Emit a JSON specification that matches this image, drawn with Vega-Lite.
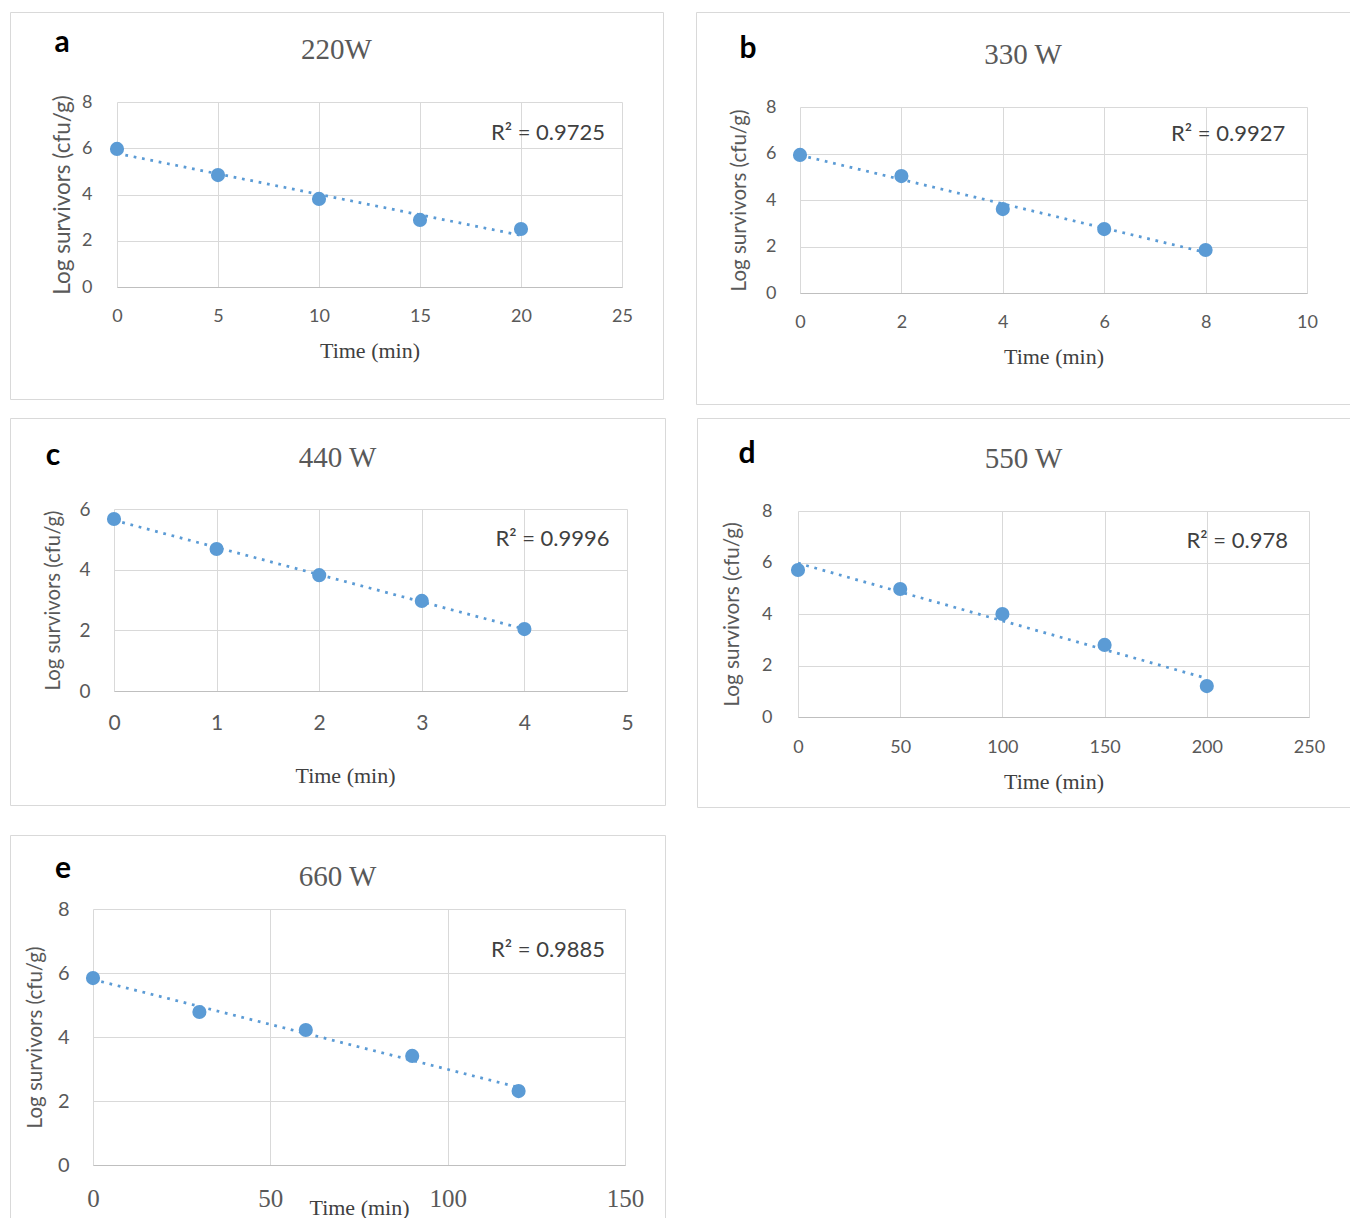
{
  "$schema": "https://vega.github.io/schema/vega-lite/v6.json",
  "background": "white",
  "padding": {"left": 9, "top": 11, "right": 0, "bottom": 0},
  "autosize": {"type": "pad"},
  "config": {
    "view": {"stroke": "#d9d9d9", "strokeWidth": 1, "fill": "white"},
    "font": "Lato",
    "axis": {"gridColor": "#d9d9d9", "gridWidth": 1, "ticks": false, "tickSize": 0, "domainColor": "#d9d9d9", "labelColor": "#595959", "labelFont": "Lato", "titleFontWeight": "normal", "labelFlush": false, "labelOverlap": false, "format": "d"},
    "axisX": {"titleFont": "Liberation Serif", "titleColor": "#404040", "domainColor": "#bfbfbf"},
    "axisY": {"titleFont": "Lato", "titleColor": "#595959", "domain": false, "grid": true},
    "title": {"font": "Liberation Serif", "fontSize": 29, "fontWeight": "normal", "color": "#595959", "frame": "bounds", "anchor": "middle"}
  },
  "datasets": {
    "a": [{"t": 0, "v": 5.97}, {"t": 5, "v": 4.84}, {"t": 10, "v": 3.81}, {"t": 15, "v": 2.9}, {"t": 20, "v": 2.51}],
    "b": [{"t": 0, "v": 5.94}, {"t": 2, "v": 5.03}, {"t": 4, "v": 3.61}, {"t": 6, "v": 2.75}, {"t": 8, "v": 1.85}],
    "c": [{"t": 0, "v": 5.67}, {"t": 1, "v": 4.68}, {"t": 2, "v": 3.82}, {"t": 3, "v": 2.97}, {"t": 4, "v": 2.04}],
    "d": [{"t": 0, "v": 5.71}, {"t": 50, "v": 4.97}, {"t": 100, "v": 4.0}, {"t": 150, "v": 2.8}, {"t": 200, "v": 1.2}],
    "e": [{"t": 0, "v": 5.84}, {"t": 30, "v": 4.78}, {"t": 60, "v": 4.22}, {"t": 90, "v": 3.41}, {"t": 120, "v": 2.31}]
  },
  "spacing": 26,
  "vconcat": [
    {
      "spacing": 12,
      "vconcat": [
        {
          "spacing": 31,
          "hconcat": [
            {
              "width": 653, "height": 387,
              "title": {"text": "220W", "offset": -53},
              "data": {"name": "a"},
              "resolve": {"axis": {"x": "independent"}},
              "layer": [
                {"transform": [{"regression": "v", "on": "t"}], "mark": {"type": "line", "color": "#5b9bd5", "strokeWidth": 2.75, "strokeDash": [2.75, 5.75]},
                 "encoding": {"x": {"field": "t", "type": "quantitative", "scale": {"domain": [0, 25], "range": [107, 612], "nice": false, "zero": false},
                                    "axis": {"orient": "top", "values": [0, 5, 10, 15, 20, 25], "grid": true, "labels": false, "domain": false, "title": null}},
                              "y": {"field": "v", "type": "quantitative", "scale": {"domain": [0, 8], "range": [275, 90], "nice": false, "zero": false},
                                    "axis": {"values": [0, 2, 4, 6, 8], "offset": -107, "title": "Log survivors (cfu/g)", "labelFontSize": 18, "labelPadding": 25, "titleFontSize": 22.5, "titlePadding": 7}}}},
                {"layer": [
                  {"mark": {"type": "circle", "size": 200, "color": "#5b9bd5", "opacity": 1},
                   "encoding": {"x": {"field": "t", "type": "quantitative",
                                      "axis": {"values": [0, 5, 10, 15, 20, 25], "grid": false, "offset": -112, "title": "Time (min)", "labelFontSize": 18, "labelPadding": 20, "titleFontSize": 22, "titlePadding": 15}},
                                "y": {"field": "v", "type": "quantitative"}}},
                  {"data": {"values": [{}]}, "mark": {"type": "text", "text": "R² = 0.9725", "font": "Lato", "fontSize": 22, "color": "#404040", "align": "right", "baseline": "middle"},
                   "encoding": {"x": {"datum": 24.16, "type": "quantitative"}, "y": {"datum": 6.66, "type": "quantitative"}}},
                  {"data": {"values": [{}]}, "mark": {"type": "text", "text": "a", "font": "Lato", "fontSize": 30, "fontWeight": "bold", "color": "#000000", "align": "center", "baseline": "middle"},
                   "encoding": {"x": {"datum": -2.723, "type": "quantitative"}, "y": {"datum": 10.551, "type": "quantitative"}}}
                ]}
              ]
            },
            {
              "width": 654, "height": 392,
              "title": {"text": "330 W", "offset": -58},
              "data": {"name": "b"},
              "resolve": {"axis": {"x": "independent"}},
              "layer": [
                {"transform": [{"regression": "v", "on": "t"}], "mark": {"type": "line", "color": "#5b9bd5", "strokeWidth": 2.75, "strokeDash": [2.75, 5.75]},
                 "encoding": {"x": {"field": "t", "type": "quantitative", "scale": {"domain": [0, 10], "range": [104, 611], "nice": false, "zero": false},
                                    "axis": {"orient": "top", "values": [0, 2, 4, 6, 8, 10], "grid": true, "labels": false, "domain": false, "title": null}},
                              "y": {"field": "v", "type": "quantitative", "scale": {"domain": [0, 8], "range": [281, 95], "nice": false, "zero": false},
                                    "axis": {"values": [0, 2, 4, 6, 8], "offset": -104, "title": "Log survivors (cfu/g)", "labelFontSize": 18, "labelPadding": 24, "titleFontSize": 20.5, "titlePadding": 16}}}},
                {"layer": [
                  {"mark": {"type": "circle", "size": 200, "color": "#5b9bd5", "opacity": 1},
                   "encoding": {"x": {"field": "t", "type": "quantitative",
                                      "axis": {"values": [0, 2, 4, 6, 8, 10], "grid": false, "offset": -111, "title": "Time (min)", "labelFontSize": 18, "labelPadding": 20, "titleFontSize": 22, "titlePadding": 15}},
                                "y": {"field": "v", "type": "quantitative"}}},
                  {"data": {"values": [{}]}, "mark": {"type": "text", "text": "R² = 0.9927", "font": "Lato", "fontSize": 22, "color": "#404040", "align": "right", "baseline": "middle"},
                   "encoding": {"x": {"datum": 9.57, "type": "quantitative"}, "y": {"datum": 6.84, "type": "quantitative"}}},
                  {"data": {"values": [{}]}, "mark": {"type": "text", "text": "b", "font": "Lato", "fontSize": 30, "fontWeight": "bold", "color": "#000000", "align": "center", "baseline": "middle"},
                   "encoding": {"x": {"datum": -1.026, "type": "quantitative"}, "y": {"datum": 10.495, "type": "quantitative"}}}
                ]}
              ]
            }
          ]
        },
        {
          "spacing": 30,
          "hconcat": [
            {
              "width": 655, "height": 387,
              "title": {"text": "440 W", "offset": -55},
              "data": {"name": "c"},
              "resolve": {"axis": {"x": "independent"}},
              "layer": [
                {"transform": [{"regression": "v", "on": "t"}], "mark": {"type": "line", "color": "#5b9bd5", "strokeWidth": 2.75, "strokeDash": [2.75, 5.75]},
                 "encoding": {"x": {"field": "t", "type": "quantitative", "scale": {"domain": [0, 5], "range": [104, 617], "nice": false, "zero": false},
                                    "axis": {"orient": "top", "values": [0, 1, 2, 3, 4, 5], "grid": true, "labels": false, "domain": false, "title": null}},
                              "y": {"field": "v", "type": "quantitative", "scale": {"domain": [0, 6], "range": [273, 91], "nice": false, "zero": false},
                                    "axis": {"values": [0, 2, 4, 6], "offset": -104, "title": "Log survivors (cfu/g)", "labelFontSize": 19, "labelPadding": 24, "titleFontSize": 20.3, "titlePadding": 15}}}},
                {"layer": [
                  {"mark": {"type": "circle", "size": 200, "color": "#5b9bd5", "opacity": 1},
                   "encoding": {"x": {"field": "t", "type": "quantitative",
                                      "axis": {"values": [0, 1, 2, 3, 4, 5], "grid": false, "offset": -114, "title": "Time (min)", "labelFontSize": 21, "labelPadding": 21, "titleFontSize": 22, "titlePadding": 32, "titleX": 335}},
                                "y": {"field": "v", "type": "quantitative"}}},
                  {"data": {"values": [{}]}, "mark": {"type": "text", "text": "R² = 0.9996", "font": "Lato", "fontSize": 22, "color": "#404040", "align": "right", "baseline": "middle"},
                   "encoding": {"x": {"datum": 4.83, "type": "quantitative"}, "y": {"datum": 5.01, "type": "quantitative"}}},
                  {"data": {"values": [{}]}, "mark": {"type": "text", "text": "c", "font": "Lato", "fontSize": 30, "fontWeight": "bold", "color": "#000000", "align": "center", "baseline": "middle"},
                   "encoding": {"x": {"datum": -0.5945, "type": "quantitative"}, "y": {"datum": 7.747, "type": "quantitative"}}}
                ]}
              ]
            },
            {
              "width": 653, "height": 389,
              "title": {"text": "550 W", "offset": -56},
              "data": {"name": "d"},
              "resolve": {"axis": {"x": "independent"}},
              "layer": [
                {"transform": [{"regression": "v", "on": "t"}], "mark": {"type": "line", "color": "#5b9bd5", "strokeWidth": 2.75, "strokeDash": [2.75, 5.75]},
                 "encoding": {"x": {"field": "t", "type": "quantitative", "scale": {"domain": [0, 250], "range": [101, 612], "nice": false, "zero": false},
                                    "axis": {"orient": "top", "values": [0, 50, 100, 150, 200, 250], "grid": true, "labels": false, "domain": false, "title": null}},
                              "y": {"field": "v", "type": "quantitative", "scale": {"domain": [0, 8], "range": [299, 93], "nice": false, "zero": false},
                                    "axis": {"values": [0, 2, 4, 6, 8], "offset": -101, "title": "Log survivors (cfu/g)", "labelFontSize": 18, "labelPadding": 26, "titleFontSize": 20.8, "titlePadding": 19}}}},
                {"layer": [
                  {"mark": {"type": "circle", "size": 200, "color": "#5b9bd5", "opacity": 1},
                   "encoding": {"x": {"field": "t", "type": "quantitative",
                                      "axis": {"values": [0, 50, 100, 150, 200, 250], "grid": false, "offset": -90, "title": "Time (min)", "labelFontSize": 18, "labelPadding": 21, "titleFontSize": 22, "titlePadding": 15}},
                                "y": {"field": "v", "type": "quantitative"}}},
                  {"data": {"values": [{}]}, "mark": {"type": "text", "text": "R² = 0.978", "font": "Lato", "fontSize": 22, "color": "#404040", "align": "right", "baseline": "middle"},
                   "encoding": {"x": {"datum": 239.7, "type": "quantitative"}, "y": {"datum": 6.83, "type": "quantitative"}}},
                  {"data": {"values": [{}]}, "mark": {"type": "text", "text": "d", "font": "Lato", "fontSize": 30, "fontWeight": "bold", "color": "#000000", "align": "center", "baseline": "middle"},
                   "encoding": {"x": {"datum": -24.95, "type": "quantitative"}, "y": {"datum": 10.214, "type": "quantitative"}}}
                ]}
              ]
            }
          ]
        }
      ]
    },
    {
      "width": 655, "height": 400,
      "title": {"text": "660 W", "offset": -57},
      "data": {"name": "e"},
      "resolve": {"axis": {"x": "independent"}},
      "layer": [
        {"transform": [{"regression": "v", "on": "t"}], "mark": {"type": "line", "color": "#5b9bd5", "strokeWidth": 2.75, "strokeDash": [2.75, 5.75]},
         "encoding": {"x": {"field": "t", "type": "quantitative", "scale": {"domain": [0, 150], "range": [83, 615], "nice": false, "zero": false},
                            "axis": {"orient": "top", "values": [0, 50, 100, 150], "grid": true, "labels": false, "domain": false, "title": null}},
                      "y": {"field": "v", "type": "quantitative", "scale": {"domain": [0, 8], "range": [330, 74], "nice": false, "zero": false},
                            "axis": {"values": [0, 2, 4, 6, 8], "offset": -83, "title": "Log survivors (cfu/g)", "labelFontSize": 20, "labelPadding": 24, "titleFontSize": 20.5, "titlePadding": 12}}}},
        {"layer": [
          {"mark": {"type": "circle", "size": 200, "color": "#5b9bd5", "opacity": 1},
           "encoding": {"x": {"field": "t", "type": "quantitative",
                              "axis": {"values": [0, 50, 100, 150], "grid": false, "offset": -70, "title": "Time (min)", "labelFont": "Liberation Serif", "labelFontSize": 25, "labelPadding": 21, "titleFontSize": 22, "titlePadding": -14}},
                        "y": {"field": "v", "type": "quantitative"}}},
          {"data": {"values": [{}]}, "mark": {"type": "text", "text": "R² = 0.9885", "font": "Lato", "fontSize": 22, "color": "#404040", "align": "right", "baseline": "middle"},
           "encoding": {"x": {"datum": 144.4, "type": "quantitative"}, "y": {"datum": 6.72, "type": "quantitative"}}},
          {"data": {"values": [{}]}, "mark": {"type": "text", "text": "e", "font": "Lato", "fontSize": 30, "fontWeight": "bold", "color": "#000000", "align": "center", "baseline": "middle"},
           "encoding": {"x": {"datum": -8.459, "type": "quantitative"}, "y": {"datum": 9.25, "type": "quantitative"}}}
        ]}
      ]
    }
  ]
}
